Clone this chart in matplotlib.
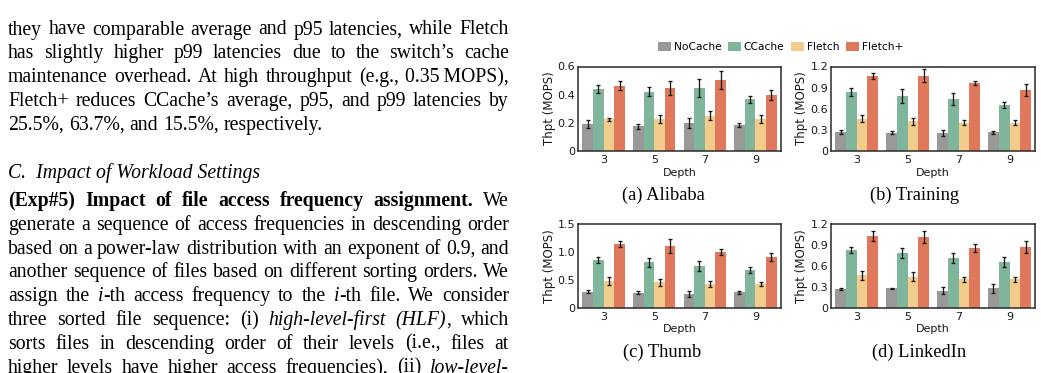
import matplotlib
matplotlib.use('Agg')
import matplotlib.pyplot as plt
from matplotlib.patches import Patch
import numpy as np

# Datos de las figuras (throughput en MOPS)
depths = ['3', '5', '7', '9']
systems = ['NoCache', 'CCache', 'Fletch', 'Fletch+']
colors = ['#999999', '#7fb69b', '#f3cc8c', '#e0785c']

# filas: NoCache, CCache, Fletch, Fletch+ ; columnas: depth 3,5,7,9
alibaba_thpt = [[0.189, 0.174, 0.195, 0.181],
                [0.438, 0.419, 0.446, 0.367],
                [0.224, 0.226, 0.248, 0.224],
                [0.462, 0.446, 0.505, 0.396]]
alibaba_err = [[0.027, 0.017, 0.036, 0.014],
               [0.030, 0.032, 0.062, 0.025],
               [0.011, 0.026, 0.032, 0.030],
               [0.032, 0.048, 0.064, 0.033]]

training_thpt = [[0.271, 0.257, 0.252, 0.262],
                 [0.833, 0.786, 0.738, 0.652],
                 [0.457, 0.419, 0.400, 0.400],
                 [1.067, 1.071, 0.967, 0.867]]
training_err = [[0.029, 0.024, 0.038, 0.024],
                [0.060, 0.100, 0.090, 0.045],
                [0.055, 0.048, 0.033, 0.038],
                [0.040, 0.088, 0.024, 0.086]]

thumb_thpt = [[0.287, 0.269, 0.245, 0.275],
              [0.855, 0.813, 0.747, 0.675],
              [0.478, 0.460, 0.424, 0.424],
              [1.142, 1.106, 0.998, 0.909]]
thumb_err = [[0.030, 0.024, 0.054, 0.030],
             [0.054, 0.075, 0.090, 0.054],
             [0.078, 0.063, 0.048, 0.036],
             [0.050, 0.117, 0.054, 0.080]]

linkedin_thpt = [[0.268, 0.277, 0.244, 0.277],
                 [0.827, 0.779, 0.712, 0.655],
                 [0.468, 0.445, 0.406, 0.406],
                 [1.028, 1.018, 0.856, 0.870]]
linkedin_err = [[0.014, 0.012, 0.053, 0.067],
                [0.043, 0.072, 0.076, 0.067],
                [0.065, 0.060, 0.033, 0.033],
                [0.069, 0.084, 0.060, 0.091]]

ticks_06 = [0, 0.2, 0.4, 0.6]
labels_06 = ['0', '0.2', '0.4', '0.6']
ticks_12 = [0, 0.3, 0.6, 0.9, 1.2]
labels_12 = ['0', '0.3', '0.6', '0.9', '1.2']
ticks_15 = [0, 0.5, 1.0, 1.5]
labels_15 = ['0', '0.5', '1.0', '1.5']

captions = ['(a) Alibaba', '(b) Training', '(c) Thumb', '(d) LinkedIn']

# Texto de la columna izquierda (cada línea es una lista de segmentos (texto, estilo))
par1 = [
    [("they have comparable average and p95 latencies, while Fletch", 'n')],
    [("has slightly higher p99 latencies due to the switch\u2019s cache", 'n')],
    [("maintenance overhead. At high throughput (e.g., 0.35\u2009MOPS),", 'n')],
    [("Fletch+ reduces CCache\u2019s average, p95, and p99 latencies by", 'n')],
    [("25.5%, 63.7%, and 15.5%, respectively.", 'n')],
]
heading = "C.  Impact of Workload Settings"
par2 = [
    [("(Exp#5) Impact of file access frequency assignment.", 'b'), (" We", 'n')],
    [("generate a sequence of access frequencies in descending order", 'n')],
    [("based on a power-law distribution with an exponent of 0.9, and", 'n')],
    [("another sequence of files based on different sorting orders. We", 'n')],
    [("assign the ", 'n'), ("i", 'i'), ("-th access frequency to the ", 'n'), ("i", 'i'),
     ("-th file. We consider", 'n')],
    [("three sorted file sequence: (i) ", 'n'), ("high-level-first (HLF)", 'i'), (", which", 'n')],
    [("sorts files in descending order of their levels (i.e., files at", 'n')],
    [("higher levels have higher access frequencies), (ii) ", 'n'), ("low-level-", 'i')],
]

W, H = 1041, 373
fig = plt.figure(figsize=(W / 100, H / 100), dpi=100)
r = fig.canvas.get_renderer()

serif = 'Liberation Serif'
fs_body = 14.2
fs_cap = 13.3


def style_kw(st):
    kw = dict(family=serif, fontsize=fs_body)
    if st == 'b':
        kw['fontweight'] = 'bold'
    if st == 'i':
        kw['fontstyle'] = 'italic'
    return kw


def text_w(s, st):
    t = fig.text(0, 0, s, **style_kw(st))
    w = t.get_window_extent(r).width
    t.remove()
    return w


def words_of(segs):
    words = [[]]
    for txt, st in segs:
        parts = txt.split(' ')
        for k, p in enumerate(parts):
            if k > 0:
                words.append([])
            if p:
                words[-1].append((p, st))
    return [w for w in words if w]


space_w = text_w('x x', 'n') - text_w('xx', 'n')
x_left, x_right = 8, 509


def draw_line(segs, y, justify=True):
    words = words_of(segs)
    widths = [[text_w(p, st) for p, st in w] for w in words]
    total = sum(sum(ws) for ws in widths)
    if justify and len(words) > 1:
        gap = (x_right - x_left - total) / (len(words) - 1)
    else:
        gap = space_w
    x = x_left
    for w, ws in zip(words, widths):
        for (p, st), pw in zip(w, ws):
            fig.text(x / W, 1 - y / H, p, va='baseline', ha='left', **style_kw(st))
            x += pw
        x += gap


y0 = 34.5
for k, line in enumerate(par1):
    draw_line(line, y0 + k * 23.8, justify=(k < len(par1) - 1))
fig.text(x_left / W, 1 - 178.3 / H, heading, va='baseline', ha='left',
         family=serif, fontsize=fs_body, fontstyle='italic')
y0 = 206
for k, line in enumerate(par2):
    draw_line(line, y0 + k * 23.8)

# Gráficos de barras
panels = [
    (alibaba_thpt, alibaba_err, ticks_06, labels_06, [578.3, 66.5, 780.7, 150.7]),
    (training_thpt, training_err, ticks_12, labels_12, [831.3, 66.5, 1035, 150.7]),
    (thumb_thpt, thumb_err, ticks_15, labels_15, [578.3, 224, 780.7, 307.7]),
    (linkedin_thpt, linkedin_err, ticks_12, labels_12, [831.3, 224, 1035, 307.7]),
]
cap_pos = [(663, 200), (915, 200), (662, 356.5), (919, 356.5)]

fs_tick = 8
fs_ylab = 8.5
fs_leg = 7.7
bw = 0.21
x = np.arange(len(depths))
for idx, (vals, errs, tks, tls, (l, t, rr, b)) in enumerate(panels):
    ax = fig.add_axes([l / W, 1 - b / H, (rr - l) / W, (b - t) / H])
    for j in range(len(systems)):
        ax.bar(x + (j - 1.5) * bw, vals[j], bw, color=colors[j], yerr=errs[j],
               error_kw=dict(ecolor='#1a1a1a', elinewidth=0.95, capsize=1.7, capthick=0.95),
               zorder=2)
    ax.set_xlim(-0.5, len(depths) - 0.5)
    ax.set_ylim(tks[0], tks[-1])
    ax.set_xticks(x)
    ax.set_xticklabels(depths)
    ax.set_yticks(tks)
    ax.set_yticklabels(tls)
    ax.tick_params(axis='both', length=0, labelsize=fs_tick, colors='#1a1a1a')
    ax.tick_params(axis='y', pad=2.2)
    ax.tick_params(axis='x', pad=3)
    for s in ax.spines.values():
        s.set_color('#2a2a2a')
        s.set_linewidth(1.1)
    ax.set_ylabel('Thpt (MOPS)', fontsize=fs_ylab, color='#1a1a1a')
    ax.set_xlabel('Depth', fontsize=fs_tick, color='#1a1a1a')
    ax.yaxis.set_label_coords(-0.11 if idx % 2 == 0 else -0.116, 0.5)
    ax.xaxis.set_label_coords(0.5, -0.2)
    cx, cy = cap_pos[idx]
    fig.text(cx / W, 1 - cy / H, captions[idx], ha='center', va='baseline',
             family=serif, fontsize=fs_cap)

handles = [Patch(facecolor=c, edgecolor='none') for c in colors]
fig.legend(handles, systems, loc='center', bbox_to_anchor=(780.5 / W, 1 - 46.7 / H),
           ncol=4, frameon=False, fontsize=fs_leg, handlelength=1.25, handleheight=0.9,
           handletextpad=0.25, columnspacing=0.6, borderpad=0, borderaxespad=0)

fig.savefig('out.png', dpi=100)
